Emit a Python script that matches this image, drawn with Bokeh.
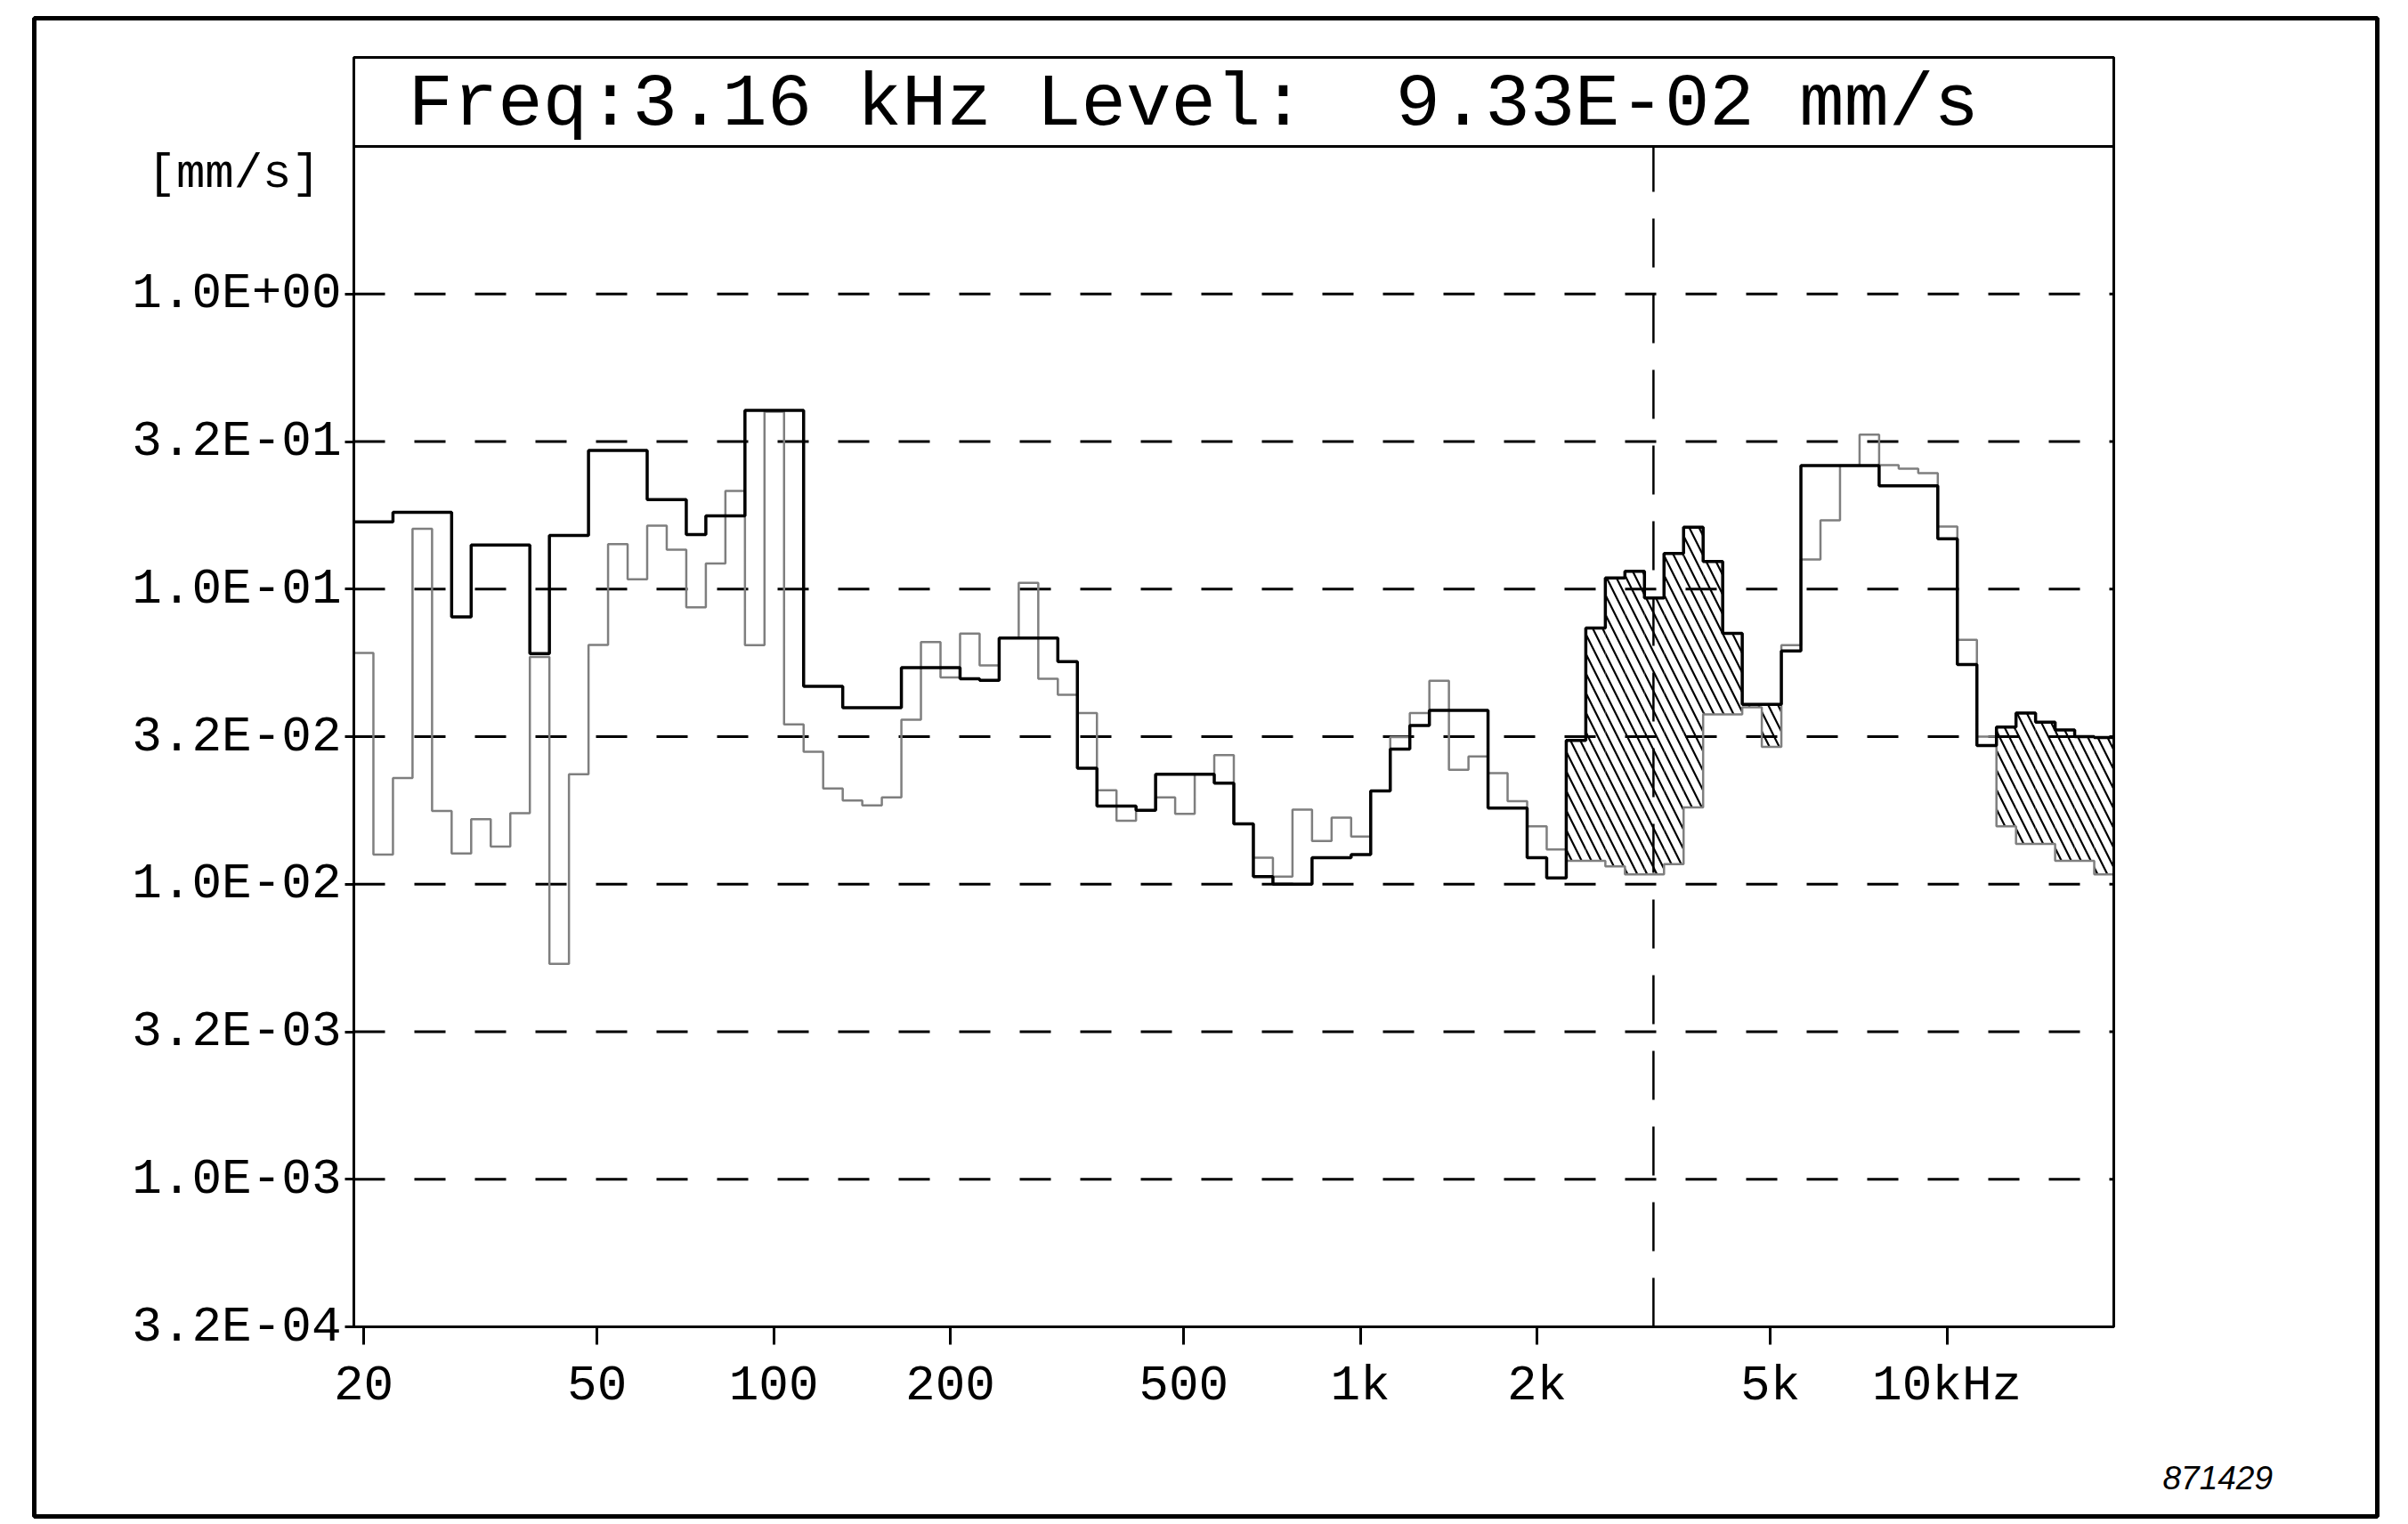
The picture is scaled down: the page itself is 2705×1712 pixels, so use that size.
import math
from bokeh.plotting import figure
from bokeh.models import FixedTicker, Label
from bokeh.embed import file_html
from bokeh.resources import INLINE

# ---------------- data ----------------
# 90 analysis bands, 30 per decade, first band centred on 20 Hz
first_band_hz = 20.0
bands_per_decade = 30
n_bands = 90

# levels per band in mm/s (black = current trace, grey = reference trace)
black_mm_s = [
    0.169, 0.169, 0.182, 0.182, 0.182, 0.0805, 0.141, 0.141, 0.141, 0.0604,
    0.152, 0.152, 0.295, 0.295, 0.295, 0.201, 0.201, 0.153, 0.177, 0.177,
    0.403, 0.403, 0.403, 0.0468, 0.0468, 0.0396, 0.0396, 0.0396, 0.0542, 0.0542,
    0.0542, 0.0497, 0.0491, 0.0682, 0.0682, 0.0682, 0.0568, 0.0247, 0.0184, 0.0184,
    0.0178, 0.0236, 0.0236, 0.0236, 0.0220, 0.0160, 0.0106, 0.0100, 0.0100, 0.0123,
    0.0123, 0.0126, 0.0207, 0.0287, 0.0345, 0.0388, 0.0388, 0.0388, 0.0181, 0.0181,
    0.0123, 0.0105, 0.0307, 0.0738, 0.109, 0.115, 0.0933, 0.132, 0.162, 0.124,
    0.0708, 0.0407, 0.0407, 0.0617, 0.262, 0.262, 0.262, 0.262, 0.224, 0.224,
    0.224, 0.148, 0.0555, 0.0295, 0.0341, 0.0380, 0.0354, 0.0333, 0.0316, 0.0314,
]
gray_mm_s = [
    0.0608, 0.0126, 0.0229, 0.160, 0.0177, 0.0127, 0.0166, 0.0134, 0.0174, 0.0589,
    0.00537, 0.0236, 0.0647, 0.142, 0.108, 0.164, 0.136, 0.0867, 0.122, 0.215,
    0.0646, 0.399, 0.0348, 0.0281, 0.0211, 0.0192, 0.0185, 0.0197, 0.0361, 0.0661,
    0.0502, 0.0706, 0.0551, 0.0682, 0.105, 0.0497, 0.0438, 0.0380, 0.0208, 0.0164,
    0.0178, 0.0197, 0.0173, 0.0236, 0.0274, 0.0160, 0.0123, 0.0106, 0.0179, 0.0140,
    0.0168, 0.0145, 0.0207, 0.0315, 0.0380, 0.0489, 0.0244, 0.0271, 0.0238, 0.0191,
    0.0157, 0.0131, 0.0120, 0.0120, 0.0115, 0.0108, 0.0108, 0.0117, 0.0182, 0.0376,
    0.0376, 0.0398, 0.0292, 0.0646, 0.126, 0.171, 0.262, 0.334, 0.263, 0.256,
    0.247, 0.163, 0.0673, 0.0316, 0.0157, 0.0137, 0.0137, 0.0120, 0.0120, 0.0108,
]
# hatched band ranges (inclusive band indices)
hatched_bands = [(62, 72), (84, 89)]

cursor_hz = 3160
cursor_text = "Freq:3.16 kHz Level:\u00a0 9.33E-02 mm/s"

y_ticks = [1.0, 10 ** -0.5, 0.1, 10 ** -1.5, 0.01, 10 ** -2.5, 0.001, 10 ** -3.5]
y_tick_labels = ["1.0E+00", "3.2E-01", "1.0E-01", "3.2E-02", "1.0E-02",
                 "3.2E-03", "1.0E-03", "3.2E-04"]
x_ticks = [20, 50, 100, 200, 500, 1000, 2000, 5000, 10000]
x_tick_labels = ["20", "50", "100", "200", "500", "1k", "2k", "5k", "10kHz"]
y_unit_label = "[mm/s]"
figure_id = "871429"

# ---------------- layout (canvas pixels) ----------------
W, H = 2700, 1706
PL, PR, PT, PB = 397, 2374, 164, 1490      # plot area
HEAD_TOP = 64                              # top of the read-out box
OUT_L, OUT_R, OUT_T, OUT_B = 38, 2670, 20, 1703

edges = [first_band_hz * 10 ** ((k - 0.5) / bands_per_decade) for k in range(n_bands + 1)]
x_lo, x_hi = edges[0], edges[-1]
y_lo, y_hi = y_ticks[-1], 10 ** 0.5
dec_x = (PR - PL) / math.log10(x_hi / x_lo)
dec_y = (PB - PT) / math.log10(y_hi / y_lo)

def f_at(px):
    return x_lo * 10 ** ((px - PL) / dec_x)

def v_at(py):
    return y_hi * 10 ** (-(py - PT) / dec_y)

def step_xy(levels):
    xs, ys = [], []
    for k, v in enumerate(levels):
        xs += [edges[k], edges[k + 1]]
        ys += [v, v]
    return xs, ys

p = figure(width=W, height=H, x_axis_type="log", y_axis_type="log",
           x_range=(f_at(0), f_at(W)), y_range=(v_at(H), v_at(0)),
           output_backend="svg", toolbar_location=None, min_border=0)
p.background_fill_color = "white"
p.border_fill_color = "white"
p.outline_line_color = None
p.grid.visible = False

font = "Liberation Mono"

p.xaxis.ticker = FixedTicker(ticks=x_ticks)
p.xaxis.major_label_overrides = {t: l for t, l in zip(x_ticks, x_tick_labels)}
p.yaxis.ticker = FixedTicker(ticks=y_ticks)
p.yaxis.major_label_overrides = {t: l for t, l in zip(y_ticks, y_tick_labels)}
p.xaxis.fixed_location = y_lo
p.yaxis.fixed_location = x_lo
p.xaxis.bounds = (x_lo, x_hi)
p.yaxis.bounds = (y_lo, y_hi)
for ax in (p.xaxis, p.yaxis):
    ax.axis_line_color = "black"
    ax.axis_line_width = 3
    ax.major_tick_line_color = "black"
    ax.major_tick_line_width = 3
    ax.minor_tick_line_color = None
    ax.major_tick_in = 0
    ax.major_label_text_font = font
    ax.major_label_text_font_size = "56px"
    ax.major_label_text_color = "black"
p.xaxis.major_tick_out = 20
p.xaxis.major_label_standoff = 14
p.yaxis.major_tick_out = 10
p.yaxis.major_label_standoff = 4

# dashed horizontal grid lines at the labelled levels, inside the plot area only
grid_levels = y_ticks[:-1]
p.segment(x0=[x_lo] * len(grid_levels), x1=[x_hi] * len(grid_levels),
          y0=grid_levels, y1=grid_levels,
          line_color="black", line_width=3, line_dash="35 33")

# hatched areas between the traces
hl, hr, hb, ht = [], [], [], []
for a, b in hatched_bands:
    for k in range(a, b + 1):
        hl.append(edges[k]); hr.append(edges[k + 1])
        hb.append(min(black_mm_s[k], gray_mm_s[k]))
        ht.append(max(black_mm_s[k], gray_mm_s[k]))
p.quad(left=hl, right=hr, bottom=hb, top=ht, fill_alpha=0, line_alpha=0,
       hatch_pattern="left_diagonal_line", hatch_color="black",
       hatch_weight=2.2, hatch_scale=22)

gx, gy = step_xy(gray_mm_s)
p.line(gx, gy, line_color="#7f7f7f", line_width=2.5)
bx, by = step_xy(black_mm_s)
p.line(bx, by, line_color="black", line_width=3.5)

# cursor
p.segment(x0=[cursor_hz], y0=[y_lo], x1=[cursor_hz], y1=[y_hi],
          line_color="black", line_width=2.5, line_dash="55 30")

# plot frame, read-out box and outer frame
p.quad(left=[x_lo], right=[x_hi], bottom=[y_lo], top=[y_hi],
       fill_alpha=0, line_color="black", line_width=3)
p.quad(left=[x_lo], right=[x_hi], bottom=[y_hi], top=[v_at(HEAD_TOP)],
       fill_alpha=0, line_color="black", line_width=3)
p.quad(left=[f_at(OUT_L)], right=[f_at(OUT_R)], bottom=[v_at(OUT_B)], top=[v_at(OUT_T)],
       fill_alpha=0, line_color="black", line_width=5)

p.add_layout(Label(x=f_at(458), y=v_at(117), text=cursor_text,
                   text_font=font, text_font_size="84px", text_baseline="middle",
                   text_color="black"))
p.add_layout(Label(x=f_at(165), y=v_at(195), text=y_unit_label,
                   text_font=font, text_font_size="54px", text_baseline="middle",
                   text_color="black"))
p.add_layout(Label(x=f_at(2429), y=v_at(1659), text=figure_id,
                   text_font="Liberation Sans", text_font_style="italic",
                   text_font_size="37px", text_baseline="middle", text_color="black"))

open("out.html", "w").write(file_html(p, INLINE))
